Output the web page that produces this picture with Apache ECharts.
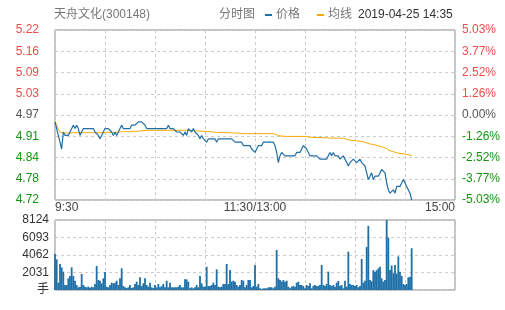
<!DOCTYPE html>
<html><head><meta charset="utf-8">
<script src="https://cdn.jsdelivr.net/npm/echarts@6/dist/echarts.min.js"></script>
<style>html,body{margin:0;padding:0;background:#fff}#c{width:505px;height:310px}</style>
</head><body><div id="c"></div>
<script>
const stockName = '天舟文化(300148)';
const chartType = '分时图';
const stamp = '2019-04-25 14:35';
const seriesNames = ['价格', '均线'];
const priceTicks = ['4.72','4.78','4.84','4.91','4.97','5.03','5.09','5.16','5.22'];
const pctTicks = ['-5.03%','-3.77%','-2.52%','-1.26%','0.00%','1.26%','2.52%','3.77%','5.03%'];
const volTicks = ['手','2031','4062','6093','8124'];
const timeTicks = {0:'9:30',120:'11:30/13:00',240:'15:00'};
const priceMin = 4.72, priceMax = 5.22;
const volMax = 8124, volStep = 2031;

const price = [
 4.95,4.93,4.91,4.89,4.87,4.92,4.91,4.91,4.91,4.92,
 4.93,4.94,4.93,4.94,4.93,4.91,4.92,4.93,4.93,4.93,
 4.93,4.93,4.93,4.93,4.92,4.92,4.91,4.90,4.91,4.92,
 4.93,4.93,4.93,4.93,4.92,4.91,4.92,4.91,4.92,4.93,
 4.94,4.93,4.93,4.93,4.93,4.93,4.94,4.94,4.94,4.94,
 4.95,4.95,4.95,4.95,4.94,4.93,4.93,4.93,4.93,4.93,
 4.93,4.93,4.93,4.93,4.93,4.93,4.93,4.93,4.94,4.93,
 4.93,4.93,4.93,4.92,4.92,4.92,4.92,4.91,4.92,4.91,
 4.93,4.93,4.92,4.93,4.92,4.92,4.91,4.90,4.91,4.90,
 4.90,4.89,4.90,4.90,4.90,4.90,4.90,4.89,4.90,4.90,
 4.90,4.90,4.90,4.90,4.90,4.90,4.90,4.90,4.89,4.89,
 4.89,4.89,4.89,4.88,4.88,4.88,4.88,4.88,4.87,4.87,
 4.86,4.87,4.88,4.88,4.88,4.89,4.89,4.89,4.89,4.89,
 4.89,4.89,4.88,4.86,4.83,4.85,4.86,4.86,4.85,4.85,
 4.85,4.85,4.85,4.85,4.85,4.86,4.86,4.86,4.87,4.88,
 4.88,4.87,4.86,4.85,4.85,4.85,4.85,4.85,4.85,4.84,
 4.84,4.84,4.84,4.84,4.85,4.86,4.85,4.86,4.85,4.85,
 4.85,4.84,4.84,4.85,4.84,4.83,4.82,4.83,4.83,4.84,
 4.84,4.83,4.83,4.84,4.83,4.83,4.82,4.80,4.78,4.79,
 4.80,4.78,4.79,4.79,4.79,4.79,4.81,4.81,4.80,4.77,
 4.75,4.74,4.74,4.75,4.74,4.76,4.76,4.76,4.77,4.78,
 4.77,4.76,4.76,4.74,4.72
];

const avg = [
 4.950,4.940,4.928,4.920,4.916,4.917,4.917,4.917,4.917,4.917,
 4.917,4.918,4.918,4.918,4.918,4.918,4.918,4.918,4.918,4.918,
 4.918,4.918,4.918,4.918,4.918,4.918,4.918,4.918,4.918,4.918,
 4.918,4.919,4.919,4.919,4.919,4.919,4.919,4.919,4.919,4.920,
 4.921,4.921,4.921,4.921,4.921,4.921,4.922,4.922,4.922,4.922,
 4.923,4.923,4.923,4.924,4.924,4.924,4.925,4.925,4.925,4.925,
 4.925,4.925,4.925,4.925,4.925,4.925,4.925,4.925,4.925,4.925,
 4.925,4.925,4.925,4.925,4.925,4.925,4.925,4.925,4.925,4.925,
 4.924,4.924,4.924,4.924,4.924,4.923,4.923,4.923,4.922,4.922,
 4.922,4.921,4.921,4.921,4.921,4.920,4.920,4.919,4.919,4.919,
 4.919,4.918,4.918,4.918,4.918,4.918,4.917,4.917,4.917,4.917,
 4.916,4.916,4.916,4.915,4.915,4.915,4.915,4.915,4.915,4.915,
 4.915,4.915,4.915,4.915,4.915,4.915,4.915,4.915,4.915,4.915,
 4.915,4.915,4.915,4.912,4.909,4.908,4.908,4.908,4.908,4.907,
 4.907,4.907,4.907,4.907,4.907,4.907,4.907,4.907,4.907,4.907,
 4.907,4.906,4.905,4.905,4.904,4.904,4.904,4.904,4.904,4.904,
 4.903,4.903,4.903,4.903,4.903,4.902,4.902,4.902,4.902,4.902,
 4.902,4.902,4.901,4.901,4.900,4.899,4.897,4.896,4.896,4.895,
 4.895,4.894,4.894,4.893,4.892,4.891,4.890,4.888,4.886,4.885,
 4.884,4.883,4.882,4.881,4.879,4.878,4.877,4.875,4.874,4.871,
 4.868,4.865,4.863,4.862,4.860,4.859,4.858,4.857,4.856,4.856,
 4.855,4.854,4.853,4.852,4.851
];

const volume = [
 4176,3558,850,3016,2630,2127,580,580,1353,1624,
 2630,1624,1083,580,310,387,1856,580,387,310,
 387,270,387,310,696,2784,1160,1083,773,1353,
 2088,387,310,580,850,773,850,1083,580,1353,
 2513,464,310,232,310,580,232,310,696,967,
 580,1470,464,773,1353,580,387,850,310,232,
 580,310,696,310,464,696,310,1083,310,850,
 310,310,310,310,387,580,310,310,1237,1237,
 967,193,310,193,310,580,310,1624,773,387,
 387,2700,464,464,580,850,580,2397,387,310,
 387,696,696,3016,696,2320,967,1083,967,580,
 387,580,1160,1083,310,580,1160,1160,310,464,
 2900,387,696,193,116,193,193,193,310,310,
 310,193,387,4640,1353,1160,967,1160,967,1083,
 387,193,387,464,387,850,967,580,580,464,
 193,580,464,773,193,464,580,464,464,580,
 2900,580,464,696,2127,580,464,580,387,850,
 1044,464,580,193,1083,387,4447,696,580,580,
 464,580,310,464,3600,850,1083,4990,7440,1160,
 1000,2300,2127,2300,2513,2700,1353,967,1160,8124,
 6090,2320,2850,1933,2900,1900,3900,2127,1624,696,
 580,696,1470,1547,4850
];

const RED = '#f24b4b', GREEN = '#12960f', GRAY = '#555';
const BLUE = '#1f6fa7', ORANGE = '#f6a800';
const FONT = '"Liberation Sans", Arial, "Noto Sans CJK SC", sans-serif';
const dash = {color: '#cccccc', type: [3, 3], width: 1};
const tickColor = (v) => v > 4 ? RED : (v < 4 ? GREEN : GRAY);

const chart = echarts.init(document.getElementById('c'), null, {renderer: 'canvas'});
chart.setOption({
  animation: false,
  textStyle: {fontFamily: FONT},
  title: [
    {text: stockName, left: 54, top: 9, padding: 0, textStyle: {fontSize: 12, color: '#777', fontWeight: 'normal', fontFamily: FONT}},
    {text: chartType, left: 219, top: 9, padding: 0, textStyle: {fontSize: 12, color: '#777', fontWeight: 'normal', fontFamily: FONT}},
    {text: stamp, left: 358, top: 9, padding: 0, textStyle: {fontSize: 12, color: '#333', fontWeight: 'normal', fontFamily: FONT}}
  ],
  legend: {
    data: seriesNames, left: 265, top: 9, padding: 0, itemWidth: 7, itemHeight: 2, itemGap: 17,
    icon: 'rect', textStyle: {fontSize: 12, color: '#777', fontFamily: FONT, padding: [0, 0, 0, -1]}
  },
  grid: [
    {left: 55, top: 30, width: 400, height: 170, show: true, borderColor: '#888', borderWidth: 1},
    {left: 55, top: 220, width: 400, height: 70, show: true, borderColor: '#888', borderWidth: 1}
  ],
  xAxis: [
    {gridIndex: 0, type: 'value', min: 0, max: 240, interval: 30,
     axisLine: {show: false}, axisTick: {show: false}, splitLine: {lineStyle: dash},
     axisLabel: {formatter: v => timeTicks[v] || '', color: '#444', fontSize: 12, margin: 2,
       showMinLabel: true, showMaxLabel: true, alignMinLabel: 'left', alignMaxLabel: 'right'}},
    {gridIndex: 1, type: 'value', min: 0, max: 240, interval: 30,
     axisLine: {show: false}, axisTick: {show: false}, splitLine: {lineStyle: dash},
     axisLabel: {show: false}}
  ],
  yAxis: [
    {gridIndex: 0, type: 'value', min: 0, max: 8, interval: 1, position: 'left',
     axisLine: {show: false}, axisTick: {show: false}, splitLine: {lineStyle: dash},
     axisLabel: {formatter: v => priceTicks[v], color: tickColor, fontSize: 12, margin: 16,
       padding: [3, 0, 0, 0], showMinLabel: true, showMaxLabel: true}},
    {gridIndex: 0, type: 'value', min: 0, max: 8, interval: 1, position: 'right',
     axisLine: {show: false}, axisTick: {show: false}, splitLine: {show: false},
     axisLabel: {formatter: v => pctTicks[v], color: tickColor, fontSize: 12, margin: 7, align: 'left',
       padding: [3, 0, 0, 0], showMinLabel: true, showMaxLabel: true}},
    {gridIndex: 0, type: 'value', min: priceMin, max: priceMax, show: false},
    {gridIndex: 1, type: 'value', min: 0, max: volMax, interval: volStep, position: 'left',
     axisLine: {show: false}, axisTick: {show: false}, splitLine: {lineStyle: dash},
     axisLabel: {formatter: v => volTicks[Math.round(v / volStep)], color: (v) => v === 0 ? '#888' : '#333',
       fontSize: 12, margin: 6, padding: [3, 0, 0, 0], showMinLabel: true, showMaxLabel: true}}
  ],
  series: [
    {name: seriesNames[0], type: 'line', xAxisIndex: 0, yAxisIndex: 2,
     data: price.map((v, i) => [i, v]), showSymbol: false, symbol: 'none',
     lineStyle: {color: BLUE, width: 1.2}, itemStyle: {color: BLUE}, z: 3},
    {name: seriesNames[1], type: 'line', xAxisIndex: 0, yAxisIndex: 2,
     data: avg.map((v, i) => [i, v]), showSymbol: false, symbol: 'none',
     lineStyle: {color: ORANGE, width: 1}, itemStyle: {color: ORANGE}, z: 2},
    {name: '成交量', type: 'bar', xAxisIndex: 1, yAxisIndex: 3,
     data: volume.map((v, i) => [i, v]), barWidth: 1.8, itemStyle: {color: BLUE}}
  ]
});
</script>
</body></html>
